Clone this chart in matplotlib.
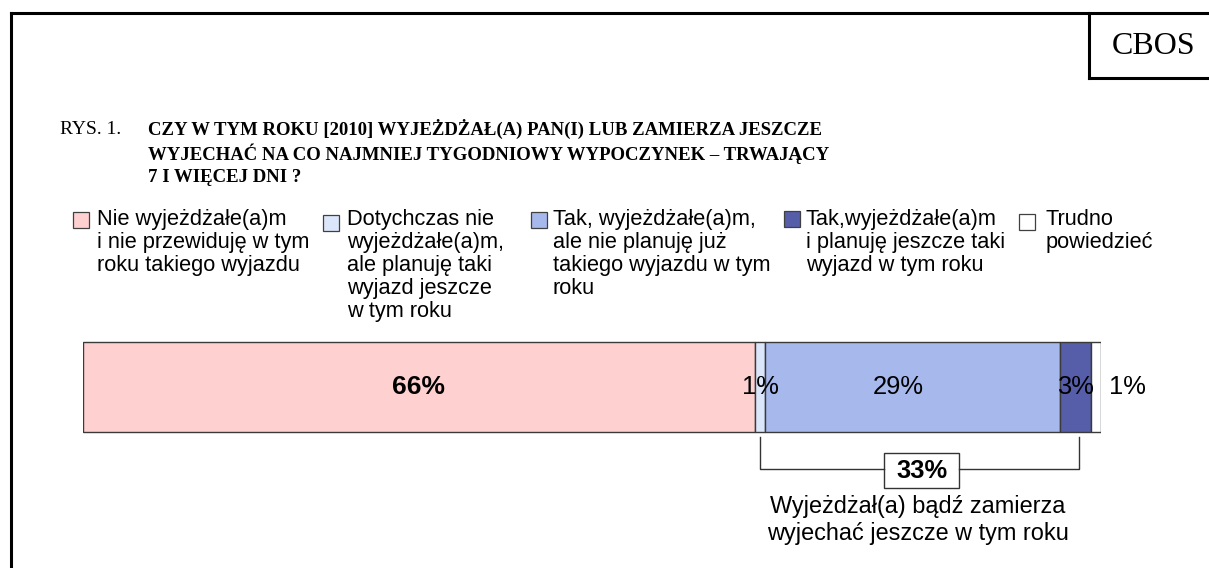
import matplotlib
matplotlib.use("Agg")
import matplotlib.pyplot as plt
from matplotlib.patches import Rectangle

# ---- data ----
categories = [
    "Nie wyjeżdżałe(a)m\ni nie przewiduję w tym\nroku takiego wyjazdu",
    "Dotychczas nie\nwyjeżdżałe(a)m,\nale planuję taki\nwyjazd jeszcze\nw tym roku",
    "Tak, wyjeżdżałe(a)m,\nale nie planuję już\ntakiego wyjazdu w tym\nroku",
    "Tak,wyjeżdżałe(a)m\ni planuję jeszcze taki\nwyjazd w tym roku",
    "Trudno\npowiedzieć",
]
values = [66, 1, 29, 3, 1]
value_labels = ["66%", "1%", "29%", "3%", "1%"]
colors = ["#FFD0D0", "#DCE6FA", "#A6B8EC", "#565EAA", "#FFFFFF"]
summary_value = "33%"
summary_text = "Wyjeżdżał(a) bądź zamierza\nwyjechać jeszcze w tym roku"
title_prefix = "RYS. 1."
title_lines = [
    "CZY W TYM ROKU [2010] WYJEŻDŻAŁ(A) PAN(I) LUB ZAMIERZA JESZCZE",
    "WYJECHAĆ NA CO NAJMNIEJ TYGODNIOWY WYPOCZYNEK – TRWAJĄCY",
    "7 I WIĘCEJ DNI ?",
]
source = "CBOS"

W, H = 1209, 568
fig = plt.figure(figsize=(W / 100, H / 100), dpi=100)

# full-figure overlay axes in pixel coords
ov = fig.add_axes([0, 0, 1, 1])
ov.set_xlim(0, W)
ov.set_ylim(H, 0)
ov.axis("off")

sans = "Liberation Sans"
serif = "Liberation Serif"

# frame lines
ov.plot([11, 11], [13, H], color="black", lw=2.2, solid_capstyle="projecting")
ov.plot([11, W], [13, 13], color="black", lw=2.2, solid_capstyle="projecting")
ov.plot([1089, 1089], [13, 78], color="black", lw=2.2, solid_capstyle="projecting")
ov.plot([1089, W], [78, 78], color="black", lw=2.2, solid_capstyle="projecting")
ov.text(1154, 46, source, family=serif, fontsize=23, ha="center", va="center")

# title
title_y = [129, 154, 177]
ov.text(60, title_y[0], title_prefix, family=serif, fontsize=14, ha="left", va="center")
for t, y in zip(title_lines, title_y):
    ov.text(148, y, t, family=serif, fontsize=13.5, fontweight="bold", ha="left", va="center")

# legend
marker_x = [73, 323, 531, 784, 1019]
marker_y = [212, 215, 212, 211, 214]
text_x = [97, 347, 553, 806, 1046]
for cat, col, mx, my, tx in zip(categories, colors, marker_x, marker_y, text_x):
    ov.add_patch(Rectangle((mx, my), 16, 16, facecolor=col, edgecolor="#404040", lw=0.9))
    ov.text(tx, 209, cat, family=sans, fontsize=15.7, ha="left", va="top", linespacing=1.13)

# bar axes: x from 83 to 1101 px, full height of figure in pixel y
bx0, bx1 = 83, 1101
ax = fig.add_axes([bx0 / W, 0, (bx1 - bx0) / W, 1])
ax.set_xlim(0, sum(values))
ax.set_ylim(H, 0)
ax.axis("off")
ax.patch.set_alpha(0)

bar_y, bar_h = 387, 90
left = 0
centers = []
for v, col in zip(values, colors):
    ax.barh(bar_y, v, left=left, height=bar_h, color=col, edgecolor="#3a3a3a", lw=1.0)
    centers.append(left + v / 2)
    left += v

lab_fs = 18.4
for i, (lab, c) in enumerate(zip(value_labels, centers)):
    if i == 0:
        ax.text(c, bar_y, lab, family=sans, fontsize=lab_fs + 0.6, fontweight="bold", ha="center", va="center")
    elif i == 2:
        ax.text(c - 1.4, bar_y, lab, family=sans, fontsize=lab_fs, ha="center", va="center")
    elif i == len(values) - 1:
        ax.text(sum(values) + 2.55, bar_y, lab, family=sans, fontsize=lab_fs, ha="center", va="center")
    else:
        ax.text(c, bar_y, lab, family=sans, fontsize=lab_fs, ha="center", va="center")

# bracket
bl = values[0] + values[1] / 2
br = sum(values[:3]) + values[3] * 0.6
bc = 82.4
ax.plot([bl, bl, bc - 3.7], [437, 469, 469], color="#333333", lw=1.0, clip_on=False)
ax.plot([bc + 3.7, br, br], [469, 469, 437], color="#333333", lw=1.0, clip_on=False)
ax.add_patch(Rectangle((bc - 3.7, 453), 7.4, 35, facecolor="white", edgecolor="#333333", lw=1.0))
ax.text(bc, 471, summary_value, family=sans, fontsize=lab_fs, fontweight="bold", ha="center", va="center")
ax.text(bc - 0.4, 520, summary_text, family=sans, fontsize=16.9, ha="center", va="center", linespacing=1.22)

fig.savefig("out.png", dpi=100)
